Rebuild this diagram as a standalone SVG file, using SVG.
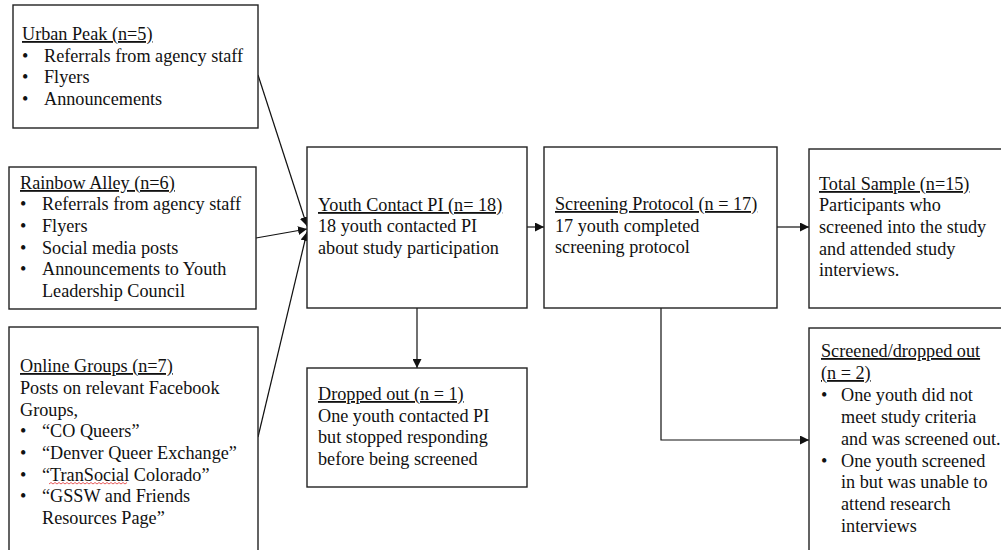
<svg xmlns="http://www.w3.org/2000/svg" width="1001" height="550" viewBox="0 0 1001 550">
  <style>
    .box { fill: #fff; stroke: #222; stroke-width: 1.4; }
    .t { font-family: "Liberation Serif", "Times New Roman", serif; font-size: 18.2px; fill: #111; }
    .h { text-decoration: underline; }
    .edge { fill: none; stroke: #111; stroke-width: 1.2; }
  </style>
  <defs>
    <marker id="arr" viewBox="0 0 10 10" refX="10" refY="5" markerWidth="9" markerHeight="9" markerUnits="userSpaceOnUse" orient="auto">
      <path d="M0,0 L10,5 L0,10 Z" fill="#111"/>
    </marker>
  </defs>
  <rect width="1001" height="550" fill="#fff"/>

  <g id="connectors">
    <line class="edge" x1="258" y1="75" x2="307" y2="226" marker-end="url(#arr)"/>
    <line class="edge" x1="256" y1="238" x2="307" y2="229" marker-end="url(#arr)"/>
    <line class="edge" x1="258" y1="437" x2="307" y2="232" marker-end="url(#arr)"/>
    <line class="edge" x1="527" y1="227" x2="544" y2="227" marker-end="url(#arr)"/>
    <line class="edge" x1="777" y1="227" x2="809" y2="227" marker-end="url(#arr)"/>
    <line class="edge" x1="417" y1="308" x2="417" y2="368" marker-end="url(#arr)"/>
    <polyline class="edge" points="661,308 661,440 809,440" marker-end="url(#arr)"/>
  </g>

  <g id="urban-peak">
    <rect class="box" x="13" y="5" width="245" height="123"/>
    <text class="t h" x="22" y="40">Urban Peak (n=5)</text>
    <text class="t" x="22" y="62">•</text><text class="t" x="44" y="62">Referrals from agency staff</text>
    <text class="t" x="22" y="83">•</text><text class="t" x="44" y="83">Flyers</text>
    <text class="t" x="22" y="105">•</text><text class="t" x="44" y="105">Announcements</text>
  </g>

  <g id="rainbow-alley">
    <rect class="box" x="9" y="167" width="247" height="142"/>
    <text class="t h" x="20" y="189">Rainbow Alley (n=6)</text>
    <text class="t" x="20" y="210">•</text><text class="t" x="42" y="210">Referrals from agency staff</text>
    <text class="t" x="20" y="232">•</text><text class="t" x="42" y="232">Flyers</text>
    <text class="t" x="20" y="254">•</text><text class="t" x="42" y="254">Social media posts</text>
    <text class="t" x="20" y="275">•</text><text class="t" x="42" y="275">Announcements to Youth</text>
    <text class="t" x="42" y="297">Leadership Council</text>
  </g>

  <g id="online-groups">
    <rect class="box" x="9" y="327" width="249" height="240"/>
    <text class="t h" x="20" y="372">Online Groups (n=7)</text>
    <text class="t" x="20" y="394">Posts on relevant Facebook</text>
    <text class="t" x="20" y="416">Groups,</text>
    <text class="t" x="20" y="437">•</text><text class="t" x="42" y="437">“CO Queers”</text>
    <text class="t" x="20" y="459">•</text><text class="t" x="42" y="459">“Denver Queer Exchange”</text>
    <text class="t" x="20" y="481">•</text><text class="t" x="42" y="481">“TranSocial Colorado”</text>
    <!-- spell-check squiggle under "TranSocial" -->
    <path d="M49,484 l2,-1.5 l2,1.5 l2,-1.5 l2,1.5 l2,-1.5 l2,1.5 l2,-1.5 l2,1.5 l2,-1.5 l2,1.5 l2,-1.5 l2,1.5 l2,-1.5 l2,1.5 l2,-1.5 l2,1.5 l2,-1.5 l2,1.5 l2,-1.5 l2,1.5 l2,-1.5 l2,1.5 l2,-1.5 l2,1.5 l2,-1.5 l2,1.5 l2,-1.5 l2,1.5 l2,-1.5 l2,1.5 l2,-1.5 l2,1.5 l2,-1.5 l2,1.5 l2,-1.5 l2,1.5 l2,-1.5 l2,1.5 l2,-1.5" fill="none" stroke="#e03030" stroke-width="0.8"/>
    <text class="t" x="20" y="502">•</text><text class="t" x="42" y="502">“GSSW and Friends</text>
    <text class="t" x="42" y="524">Resources Page”</text>
  </g>

  <g id="youth-contact">
    <rect class="box" x="307" y="147" width="220" height="161"/>
    <text class="t h" x="318" y="211">Youth Contact PI (n= 18)</text>
    <text class="t" x="318" y="232">18 youth contacted PI</text>
    <text class="t" x="318" y="254">about study participation</text>
  </g>

  <g id="screening-protocol">
    <rect class="box" x="544" y="147" width="233" height="161"/>
    <text class="t h" x="555" y="210">Screening Protocol (n = 17)</text>
    <text class="t" x="555" y="232">17 youth completed</text>
    <text class="t" x="555" y="253">screening protocol</text>
  </g>

  <g id="total-sample">
    <rect class="box" x="809" y="149" width="200" height="159"/>
    <text class="t h" x="819" y="190">Total Sample (n=15)</text>
    <text class="t" x="819" y="211">Participants who</text>
    <text class="t" x="819" y="233">screened into the study</text>
    <text class="t" x="819" y="255">and attended study</text>
    <text class="t" x="819" y="276">interviews.</text>
  </g>

  <g id="dropped-out">
    <rect class="box" x="307" y="368" width="220" height="119"/>
    <text class="t h" x="318" y="400">Dropped out (n = 1)</text>
    <text class="t" x="318" y="422">One youth contacted PI</text>
    <text class="t" x="318" y="443">but stopped responding</text>
    <text class="t" x="318" y="465">before being screened</text>
  </g>

  <g id="screened-dropped">
    <rect class="box" x="809" y="328" width="200" height="240"/>
    <text class="t h" x="821" y="357">Screened/dropped out</text>
    <text class="t h" x="821" y="379">(n = 2)</text>
    <text class="t" x="821" y="401">•</text><text class="t" x="841" y="401">One youth did not</text>
    <text class="t" x="841" y="423">meet study criteria</text>
    <text class="t" x="841" y="445">and was screened out.</text>
    <text class="t" x="821" y="467">•</text><text class="t" x="841" y="467">One youth screened</text>
    <text class="t" x="841" y="488">in but was unable to</text>
    <text class="t" x="841" y="510">attend research</text>
    <text class="t" x="841" y="532">interviews</text>
  </g>
</svg>
